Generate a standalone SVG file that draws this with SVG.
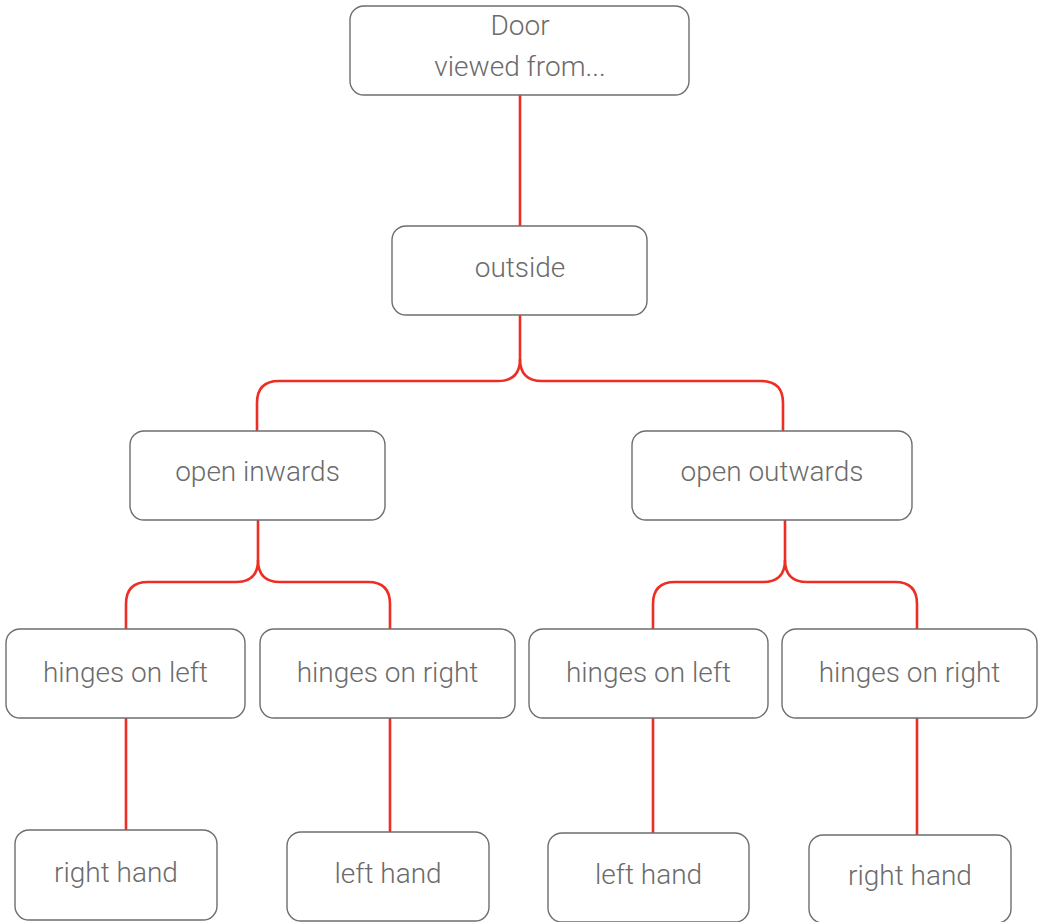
<svg xmlns="http://www.w3.org/2000/svg" width="1044" height="922" viewBox="0 0 1044 922">
<style>
.box{fill:#fff;stroke:#6e6e6e;stroke-width:1.4}
.t{font-family:Roboto,"Liberation Sans",sans-serif;font-weight:300;font-size:28px;fill:#6b6b6b;text-anchor:middle}
.c{fill:none;stroke:#ee2e24;stroke-width:2.6}
</style>
<rect width="1044" height="922" fill="#fff"/>
<g id="connectors">
<path class="c" d="M520,95 V226"/>
<path class="c" d="M520,315 V359 Q520,381 498,381 H279 Q257,381 257,403 V431"/>
<path class="c" d="M520,359 Q520,381 542,381 H761 Q783,381 783,403 V431"/>
<path class="c" d="M258,520 V560 Q258,582 236,582 H148 Q126,582 126,604 V629"/>
<path class="c" d="M258,560 Q258,582 280,582 H368 Q390,582 390,604 V629"/>
<path class="c" d="M785,520 V560 Q785,582 763,582 H675 Q653,582 653,604 V629"/>
<path class="c" d="M785,560 Q785,582 807,582 H895 Q917,582 917,604 V629"/>
<path class="c" d="M126,718 V830"/>
<path class="c" d="M390,718 V832"/>
<path class="c" d="M653,718 V833"/>
<path class="c" d="M917,718 V835"/>
</g>
<g id="door"><rect class="box" x="350" y="6" width="339" height="89" rx="14"/><text class="t" x="520" y="35">Door</text><text class="t" x="520" y="76">viewed from...</text></g>
<g id="outside"><rect class="box" x="392" y="226" width="255" height="89" rx="14"/><text class="t" x="520" y="277">outside</text></g>
<g id="open-inwards"><rect class="box" x="130" y="431" width="255" height="89" rx="14"/><text class="t" x="257.5" y="481">open inwards</text></g>
<g id="open-outwards"><rect class="box" x="632" y="431" width="280" height="89" rx="14"/><text class="t" x="772" y="481">open outwards</text></g>
<g id="hinges-left-1"><rect class="box" x="6" y="629" width="239" height="89" rx="14"/><text class="t" x="125.5" y="682">hinges on left</text></g>
<g id="hinges-right-1"><rect class="box" x="260" y="629" width="255" height="89" rx="14"/><text class="t" x="387.5" y="682">hinges on right</text></g>
<g id="hinges-left-2"><rect class="box" x="529" y="629" width="239" height="89" rx="14"/><text class="t" x="648.5" y="682">hinges on left</text></g>
<g id="hinges-right-2"><rect class="box" x="782" y="629" width="255" height="89" rx="14"/><text class="t" x="909.5" y="682">hinges on right</text></g>
<g id="right-hand-1"><rect class="box" x="15" y="830" width="202" height="90" rx="14"/><text class="t" x="116" y="882">right hand</text></g>
<g id="left-hand-1"><rect class="box" x="287" y="832" width="202" height="89" rx="14"/><text class="t" x="388" y="883">left hand</text></g>
<g id="left-hand-2"><rect class="box" x="548" y="833" width="201" height="89" rx="14"/><text class="t" x="648.5" y="884">left hand</text></g>
<g id="right-hand-2"><rect class="box" x="809" y="835" width="202" height="88" rx="14"/><text class="t" x="910" y="885">right hand</text></g>
</svg>
